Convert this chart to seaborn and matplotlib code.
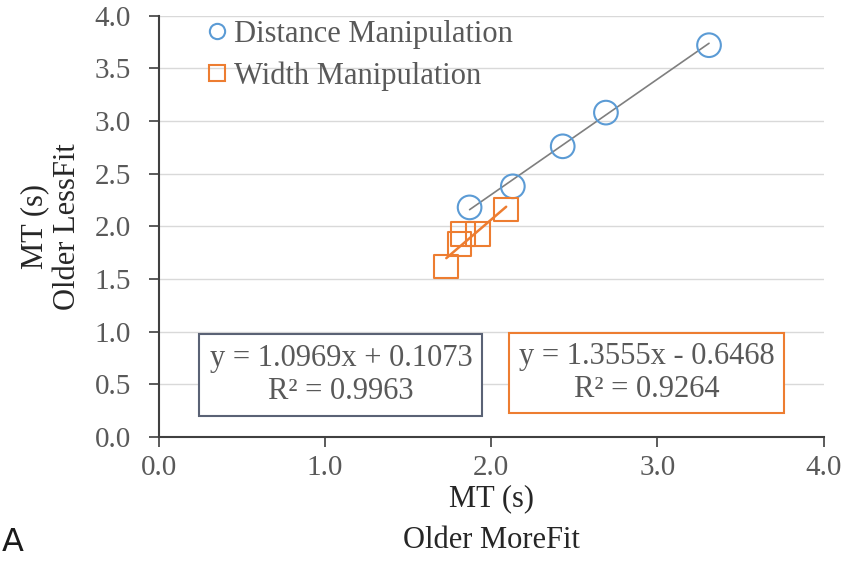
import matplotlib
matplotlib.use("Agg")
import matplotlib.pyplot as plt
import seaborn as sns
import numpy as np
import pandas as pd
from matplotlib.lines import Line2D

# Data
dist_x = [1.87, 2.13, 2.43, 2.69, 3.31]
dist_y = [2.18, 2.38, 2.76, 3.08, 3.72]
width_x = [1.73, 1.81, 1.83, 1.92, 2.09]
width_y = [1.62, 1.83, 1.93, 1.93, 2.16]
series_names = ["Distance Manipulation", "Width Manipulation"]
dist_fit = (1.0969, 0.1073)
width_fit = (1.3555, -0.6468)
dist_label = "y = 1.0969x + 0.1073\nR² = 0.9963"
width_label = "y = 1.3555x - 0.6468\nR² = 0.9264"
x_ticks = [0.0, 1.0, 2.0, 3.0, 4.0]
y_ticks = [0.0, 0.5, 1.0, 1.5, 2.0, 2.5, 3.0, 3.5, 4.0]

sns.set_theme(style="white")
plt.rcParams['font.family'] = ['Liberation Serif', 'DejaVu Serif']

BLUE = "#5B9BD5"
ORANGE = "#ED7D31"
GRAY_TXT = "#595959"

df = pd.DataFrame({
    "x": dist_x + width_x,
    "y": dist_y + width_y,
    "series": [series_names[0]] * len(dist_x) + [series_names[1]] * len(width_x),
})

fig = plt.figure(figsize=(8.44, 5.61), dpi=100)
ax = fig.add_axes([0.188, 0.221, 0.788, 0.751])

# gridlines
for yv in y_ticks[1:]:
    ax.axhline(yv, color="#D9D9D9", lw=1.0, zorder=0)

# trendlines
xd = np.array([min(dist_x), max(dist_x)])
ax.plot(xd, dist_fit[0] * xd + dist_fit[1], color="#7F7F7F", lw=1.2, zorder=2)
xw = np.array([min(width_x), max(width_x)])
ax.plot(xw, width_fit[0] * xw + width_fit[1], color=ORANGE, lw=1.8, zorder=2)

sns.scatterplot(data=df, x="x", y="y", hue="series", style="series",
                palette={series_names[0]: BLUE, series_names[1]: ORANGE},
                markers={series_names[0]: "o", series_names[1]: "s"},
                s=290, ax=ax, zorder=3, legend=False)
for coll in ax.collections:
    fc = coll.get_facecolors()
    coll.set_edgecolors(fc)
    coll.set_facecolors("none")
    coll.set_linewidth(1.5)

ax.set_xlim(0, 4)
ax.set_ylim(0, 4)
ax.set_xticks(x_ticks)
ax.set_yticks(y_ticks)
ax.set_xticklabels([f"{v:.1f}" for v in x_ticks])
ax.set_yticklabels([f"{v:.1f}" for v in y_ticks])
ax.tick_params(axis="both", labelsize=21, labelcolor=GRAY_TXT, direction="out",
               length=7, width=1.2, color="#404040", bottom=True, left=True)
ax.tick_params(axis="y", pad=13)
ax.tick_params(axis="x", pad=6)
for side in ["top", "right"]:
    ax.spines[side].set_visible(False)
for side in ["left", "bottom"]:
    ax.spines[side].set_color("#404040")
    ax.spines[side].set_linewidth(1.5)

ax.set_xlabel("MT (s)\nOlder MoreFit", fontsize=22, color="#262626", labelpad=2, linespacing=1.6)
ax.set_ylabel("MT (s)\nOlder LessFit", fontsize=22, color="#262626", labelpad=9, linespacing=1.15)

# legend
handles = [
    Line2D([], [], marker="o", ls="none", mfc="none", mec=BLUE, ms=11, mew=1.5),
    Line2D([], [], marker="s", ls="none", mfc="none", mec=ORANGE, ms=11, mew=1.5),
]
ax.legend(handles, series_names, loc="upper left", bbox_to_anchor=(0.047, 1.02),
          frameon=False, fontsize=22, handletextpad=0.05, borderaxespad=0,
          labelspacing=0.42, labelcolor=GRAY_TXT, handlelength=1.0)

# equation boxes
ax.text(0.274, 0.147, dist_label, transform=ax.transAxes, ha="center", va="center",
        fontsize=22, color=GRAY_TXT, linespacing=1.15,
        bbox=dict(boxstyle="square,pad=0.33", fc="white", ec="#5A6275", lw=1.5))
ax.text(0.734, 0.152, width_label, transform=ax.transAxes, ha="center", va="center",
        fontsize=22, color=GRAY_TXT, linespacing=1.15,
        bbox=dict(boxstyle="square,pad=0.31", fc="white", ec=ORANGE, lw=1.5))

fig.text(0.002, 0.018, "A", fontsize=23, family="DejaVu Sans", color="#1a1a1a")

fig.savefig("out.png", dpi=100)
